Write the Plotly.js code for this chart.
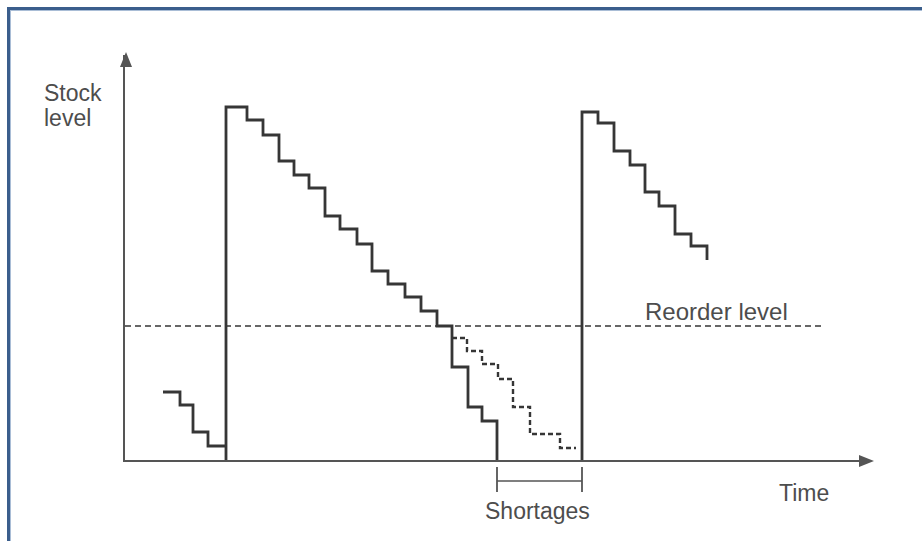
<!DOCTYPE html>
<html>
<head>
<meta charset="utf-8">
<script src="https://cdn.plot.ly/plotly-3.0.1.min.js"></script>
<style>
  html, body { margin: 0; padding: 0; background: #ffffff; }
  #chart { width: 922px; height: 541px; }
</style>
</head>
<body>
<div id="chart"></div>
<script>
// ---- Data (time and stock in arbitrary units) ----
const cycle1Time  = [38, 55, 68, 83, 101, 101, 122, 138, 154, 169, 184, 200, 215, 232, 247, 263, 280, 296, 312, 327, 343, 357, 372];
const cycle1Stock = [68, 55, 28, 14, 0, 353, 340, 325, 299, 285, 272, 244, 231, 216, 189, 176, 163, 149, 134, 93, 53, 39, 0];

const slowTime  = [327, 342, 357, 373, 388, 405, 435, 451];
const slowStock = [122, 109, 96, 81, 53, 26, 12, 12];

const cycle2Time  = [457, 457, 473, 489, 505, 520, 534, 550, 566, 582];
const cycle2Stock = [0, 348, 337, 309, 295, 268, 254, 226, 214, 200];

const reorderLevel = 134;
const reorderSpan  = [0, 698];

const axisTimeMax  = 745;
const axisStockMax = 405;

const labelYAxis   = ["Stock", "level"];
const labelXAxis   = "Time";
const labelReorder = "Reorder level";
const labelShort   = "Shortages";

// ---- Layout geometry ----
const W = 922, H = 541;
const mL = 125, mR = 52, mT = 55, mB = 81;
const plotW = W - mL - mR, plotH = H - mT - mB;
// convert page pixels to paper coordinates
const px = x => (x - mL) / plotW;
const py = y => (H - mB - y) / plotH;
// convert data to paper coordinates
const dx = t => t / axisTimeMax;
const dy = s => s / axisStockMax;

const ink = '#363636';
const axisInk = '#555555';
const textInk = '#4d4d4d';
const fam = 'Liberation Sans, Arial, Helvetica, sans-serif';
const font = { family: fam, size: 23, color: textInk };
const fontWide = { family: fam, size: 24, color: textInk };

const traces = [
  { x: reorderSpan, y: [reorderLevel, reorderLevel], mode: 'lines',
    line: { color: ink, width: 1.5, dash: '6px,4px' }, hoverinfo: 'skip' },
  { x: cycle1Time, y: cycle1Stock, mode: 'lines',
    line: { color: ink, width: 2.8, shape: 'hv' }, hoverinfo: 'skip' },
  { x: slowTime, y: slowStock, mode: 'lines',
    line: { color: ink, width: 2.4, shape: 'hv', dash: '5px,3px' }, hoverinfo: 'skip' },
  { x: cycle2Time, y: cycle2Stock, mode: 'lines',
    line: { color: ink, width: 2.8, shape: 'hv' }, hoverinfo: 'skip' }
];

const shortStart = cycle1Time[cycle1Time.length - 1];
const shortEnd = cycle2Time[0];

function tri(points) {
  return 'M' + points.map(p => px(p[0]) + ',' + py(p[1])).join(' L') + ' Z';
}

const shapes = [
  // arrowheads
  { type: 'path', xref: 'paper', yref: 'paper',
    path: tri([[126, 52], [120, 67], [132, 67]]),
    fillcolor: axisInk, line: { width: 0 } },
  { type: 'path', xref: 'paper', yref: 'paper',
    path: tri([[874, 461], [859, 455], [859, 467]]),
    fillcolor: axisInk, line: { width: 0 } },
  // shortage bracket
  { type: 'line', xref: 'paper', yref: 'paper',
    x0: dx(shortStart), x1: dx(shortStart), y0: py(467), y1: py(492),
    line: { color: axisInk, width: 1.8 } },
  { type: 'line', xref: 'paper', yref: 'paper',
    x0: dx(shortEnd), x1: dx(shortEnd), y0: py(467), y1: py(492),
    line: { color: axisInk, width: 1.8 } },
  { type: 'line', xref: 'paper', yref: 'paper',
    x0: dx(shortStart), x1: dx(shortEnd), y0: py(481), y1: py(481),
    line: { color: axisInk, width: 1.6 } },
  // blue frame
  { type: 'line', xref: 'paper', yref: 'paper',
    x0: px(7), x1: px(W), y0: py(8.5), y1: py(8.5),
    line: { color: '#3b5e8c', width: 3 } },
  { type: 'line', xref: 'paper', yref: 'paper',
    x0: px(10), x1: px(W), y0: py(10.5), y1: py(10.5),
    line: { color: '#a9bdd6', width: 1 } },
  { type: 'line', xref: 'paper', yref: 'paper',
    x0: px(8.5), x1: px(8.5), y0: py(7), y1: py(H),
    line: { color: '#3b5e8c', width: 3 } },
  { type: 'line', xref: 'paper', yref: 'paper',
    x0: px(10.5), x1: px(10.5), y0: py(10), y1: py(H),
    line: { color: '#a9bdd6', width: 1 } }
];

const annotations = [
  { text: labelYAxis[0], xref: 'paper', yref: 'paper', x: px(42), y: py(93),
    xanchor: 'left', yanchor: 'middle', showarrow: false, font: font },
  { text: labelYAxis[1], xref: 'paper', yref: 'paper', x: px(42), y: py(118),
    xanchor: 'left', yanchor: 'middle', showarrow: false, font: font },
  { text: labelXAxis, xref: 'paper', yref: 'paper', x: px(804), y: py(493),
    xanchor: 'center', yanchor: 'middle', showarrow: false, font: font },
  { text: labelShort, xref: 'paper', yref: 'paper', x: px(537), y: py(511),
    xanchor: 'center', yanchor: 'middle', showarrow: false, font: font },
  { text: labelReorder, xref: 'paper', yref: 'paper', x: px(716), y: py(311),
    xanchor: 'center', yanchor: 'middle', showarrow: false, font: fontWide }
];

const axisCommon = {
  showgrid: false, zeroline: false, showticklabels: false, ticks: '',
  showline: true, linecolor: axisInk, linewidth: 2, fixedrange: true
};

const layout = {
  width: W, height: H,
  margin: { l: mL, r: mR, t: mT, b: mB, pad: 0 },
  paper_bgcolor: '#ffffff', plot_bgcolor: '#ffffff',
  showlegend: false,
  xaxis: Object.assign({ range: [0, axisTimeMax] }, axisCommon),
  yaxis: Object.assign({ range: [0, axisStockMax] }, axisCommon),
  shapes: shapes,
  annotations: annotations
};

Plotly.newPlot('chart', traces, layout, { displayModeBar: false, staticPlot: true });
</script>
</body>
</html>
